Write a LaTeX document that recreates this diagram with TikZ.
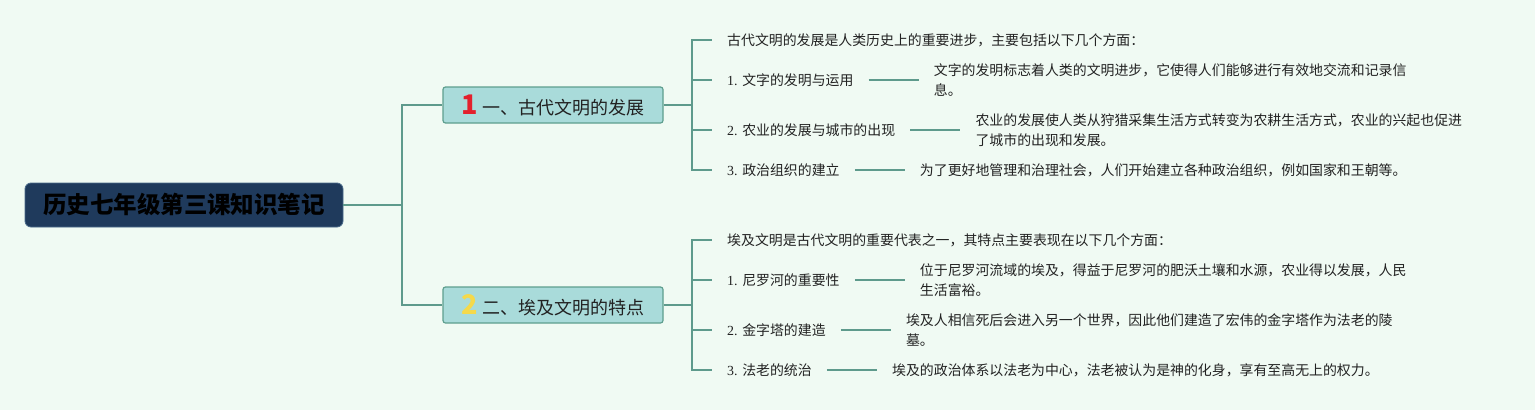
\documentclass[tikz,border=0pt]{standalone}
\usepackage{fontspec}
\setmainfont{Noto Sans CJK SC}
\newfontfamily\latinser{Liberation Serif}
\definecolor{bgcol}{HTML}{F0FAF3}
\definecolor{rootfill}{HTML}{1F3A5C}
\definecolor{rootdraw}{HTML}{4A6A8A}
\definecolor{brfill}{HTML}{A9DBDA}
\definecolor{brdraw}{HTML}{5E9E8E}
\definecolor{linecol}{HTML}{5E9A8C}
\definecolor{numred}{HTML}{E3202C}
\definecolor{numyel}{HTML}{F5D94A}
\definecolor{txt}{HTML}{222222}
\begin{document}
\begin{tikzpicture}[x=1pt,y=-1pt,
  rootbox/.style={fill=rootfill,draw=rootdraw,line width=0.8pt,rounded corners=6pt,minimum width=318pt,minimum height=44pt,inner sep=0pt,font=\fontsize{23.5}{26}\selectfont\bfseries,text=black},
  brbox/.style={fill=brfill,draw=brdraw,line width=1.2pt,rounded corners=2.5pt,minimum width=220pt,minimum height=36pt,inner sep=0pt,font=\fontsize{18}{20}\selectfont,text=txt},
  lbl/.style={anchor=west,inner xsep=15pt,inner ysep=2pt,font=\fontsize{13.9}{20}\selectfont,text=txt,align=left},
  conn/.style={draw=linecol,line width=1.5pt}
]
\fill[bgcol] (0,0) rectangle (1535,410);
\useasboundingbox (0,0) rectangle (1535,410);

\node[rootbox] (root) at (184,205) {历史七年级第三课知识笔记};
\node[brbox] (b1) at (553,105) {{\fontsize{27}{27}\selectfont\bfseries\color{numred}1}\hspace{5pt}一、古代文明的发展};
\node[brbox] (b2) at (553,305) {{\fontsize{27}{27}\selectfont\bfseries\color{numyel}2}\hspace{5pt}二、埃及文明的特点};

\coordinate (j0) at (402,205);
\draw[conn] (root.east) -- (j0) |- (b1.west);
\draw[conn] (j0) |- (b2.west);

% branch 1
\node[lbl] (h1) at (712,40) {古代文明的发展是人类历史上的重要进步，主要包括以下几个方面：};
\node[lbl] (c11) at (712,80) {{\latinser 1. }文字的发明与运用};
\node[lbl] (c12) at (712,130) {{\latinser 2. }农业的发展与城市的出现};
\node[lbl] (c13) at (712,170) {{\latinser 3. }政治组织的建立};
\node[lbl] (d11) at ([xshift=50pt]c11.east) {文字的发明标志着人类的文明进步，它使得人们能够进行有效地交流和记录信\\息。};
\node[lbl] (d12) at ([xshift=50pt]c12.east) {农业的发展使人类从狩猎采集生活方式转变为农耕生活方式，农业的兴起也促进\\了城市的出现和发展。};
\node[lbl] (d13) at ([xshift=50pt]c13.east) {为了更好地管理和治理社会，人们开始建立各种政治组织，例如国家和王朝等。};

\coordinate (j1) at (692,105);
\draw[conn] (b1.east) -- (j1);
\draw[conn] (j1) |- (h1.west);
\draw[conn] (j1) |- (c11.west);
\draw[conn] (j1) |- (c12.west);
\draw[conn] (j1) |- (c13.west);
\draw[conn] (c11.east) -- (d11.west);
\draw[conn] (c12.east) -- (d12.west);
\draw[conn] (c13.east) -- (d13.west);

% branch 2
\node[lbl] (h2) at (712,240) {埃及文明是古代文明的重要代表之一，其特点主要表现在以下几个方面：};
\node[lbl] (c21) at (712,280) {{\latinser 1. }尼罗河的重要性};
\node[lbl] (c22) at (712,330) {{\latinser 2. }金字塔的建造};
\node[lbl] (c23) at (712,370) {{\latinser 3. }法老的统治};
\node[lbl] (d21) at ([xshift=50pt]c21.east) {位于尼罗河流域的埃及，得益于尼罗河的肥沃土壤和水源，农业得以发展，人民\\生活富裕。};
\node[lbl] (d22) at ([xshift=50pt]c22.east) {埃及人相信死后会进入另一个世界，因此他们建造了宏伟的金字塔作为法老的陵\\墓。};
\node[lbl] (d23) at ([xshift=50pt]c23.east) {埃及的政治体系以法老为中心，法老被认为是神的化身，享有至高无上的权力。};

\coordinate (j2) at (692,305);
\draw[conn] (b2.east) -- (j2);
\draw[conn] (j2) |- (h2.west);
\draw[conn] (j2) |- (c21.west);
\draw[conn] (j2) |- (c22.west);
\draw[conn] (j2) |- (c23.west);
\draw[conn] (c21.east) -- (d21.west);
\draw[conn] (c22.east) -- (d22.west);
\draw[conn] (c23.east) -- (d23.west);
\end{tikzpicture}
\end{document}
